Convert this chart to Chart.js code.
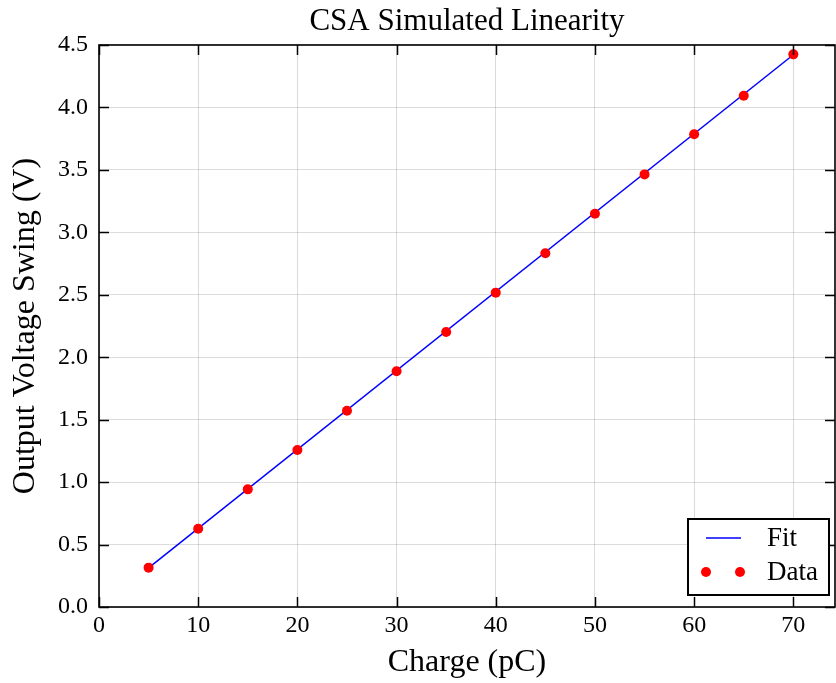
<!DOCTYPE html>
<html>
<head>
<meta charset="utf-8">
<script src="https://cdn.jsdelivr.net/npm/chart.js@4.4.1/dist/chart.umd.min.js"></script>
<style>
  html, body { margin: 0; padding: 0; background: #fff; }
  canvas { display: block; }
</style>
</head>
<body>
<canvas id="linearityChart" width="836" height="683"></canvas>
<script>
// Dữ liệu
const chargeValues = [5, 10, 15, 20, 25, 30, 35, 40, 45, 50, 55, 60, 65, 70];
const swingValues = [0.315, 0.627, 0.942, 1.257, 1.572, 1.887, 2.202, 2.517, 2.832, 3.149, 3.464, 3.785, 4.094, 4.425];
const fitCharge = [5, 70];
const fitSwing = [0.313, 4.422];
const xTicks = [0, 10, 20, 30, 40, 50, 60, 70];
const yTicks = [0, 0.5, 1, 1.5, 2, 2.5, 3, 3.5, 4, 4.5];

const serif = "'Liberation Serif', 'DejaVu Serif', serif";
Chart.defaults.font.family = serif;
Chart.defaults.color = '#000';

// ticks hướng vào trong + khung + chú thích
const framePlugin = {
    id: 'frame',
    afterDraw(chart) {
        const ctx = chart.ctx;
        const a = chart.chartArea;
        const xs = chart.scales.x, ys = chart.scales.y;
        ctx.save();
        ctx.strokeStyle = '#000';
        ctx.lineWidth = 1.5;
        ctx.beginPath();
        xTicks.forEach(v => {
            const px = Math.round(xs.getPixelForValue(v)) + 0.5;
            ctx.moveTo(px, a.bottom); ctx.lineTo(px, a.bottom - 10);
            ctx.moveTo(px, a.top); ctx.lineTo(px, a.top + 10);
        });
        yTicks.forEach(v => {
            const py = Math.round(ys.getPixelForValue(v)) + 0.5;
            ctx.moveTo(a.left, py); ctx.lineTo(a.left + 10, py);
            ctx.moveTo(a.right, py); ctx.lineTo(a.right - 10, py);
        });
        ctx.stroke();
        ctx.lineWidth = 1.6;
        ctx.strokeRect(a.left, a.top, a.right - a.left, a.bottom - a.top);

        // legend
        const ds = chart.data.datasets;
        const bx = 688, by = 519, bw = 141, bh = 76;
        ctx.fillStyle = '#fff';
        ctx.fillRect(bx, by, bw, bh);
        ctx.lineWidth = 2;
        ctx.strokeRect(bx, by, bw, bh);
        ctx.strokeStyle = ds[0].borderColor;
        ctx.lineWidth = 1.5;
        ctx.beginPath();
        ctx.moveTo(706, 538); ctx.lineTo(741, 538);
        ctx.stroke();
        ctx.fillStyle = ds[1].backgroundColor;
        [706, 740].forEach(cx => {
            ctx.beginPath();
            ctx.arc(cx, 572, 5, 0, Math.PI * 2);
            ctx.fill();
        });
        ctx.fillStyle = '#000';
        ctx.font = '27px ' + serif;
        ctx.textAlign = 'left';
        ctx.textBaseline = 'middle';
        ctx.fillText(ds[0].label, 767, 539);
        ctx.fillText(ds[1].label, 767, 573);
        ctx.restore();
    }
};

const ctx = document.getElementById('linearityChart').getContext('2d');
new Chart(ctx, {
    type: 'scatter',
    data: {
        datasets: [{
            label: 'Fit',
            type: 'line',
            data: fitCharge.map((x, i) => ({ x: x, y: fitSwing[i] })),
            borderColor: '#0000ff',
            borderWidth: 1.5,
            pointRadius: 0,
            showLine: true,
            order: 1
        }, {
            label: 'Data',
            data: chargeValues.map((x, i) => ({ x: x, y: swingValues[i] })),
            backgroundColor: '#ff0000',
            borderWidth: 0,
            pointRadius: 5,
            order: 0
        }]
    },
    options: {
        responsive: false,
        animation: false,
        layout: { autoPadding: false, padding: { left: 0, right: 1, top: 0, bottom: 0 } },
        plugins: {
            legend: { display: false },
            tooltip: { enabled: false },
            title: {
                display: true,
                fullSize: false,
                text: 'CSA Simulated Linearity',
                color: '#000',
                font: { size: 31, weight: 'normal' },
                padding: { top: 3, bottom: 4.8 }
            }
        },
        scales: {
            x: {
                type: 'linear',
                min: 0,
                max: 74.2,
                afterFit: s => { s.height = 76; s.paddingLeft = 0; s.paddingRight = 0; },
                afterBuildTicks: s => { s.ticks = xTicks.map(v => ({ value: v })); },
                ticks: { font: { size: 24 }, padding: 4, maxRotation: 0 },
                grid: { color: 'rgba(0,0,0,0.14)', drawTicks: false },
                border: { display: false },
                title: {
                    display: true,
                    text: 'Charge (pC)',
                    font: { size: 32 },
                    padding: { top: 0, bottom: 1 }
                }
            },
            y: {
                min: 0,
                max: 4.5,
                afterFit: s => { s.width = 99; s.paddingTop = 0; s.paddingBottom = 0; },
                afterBuildTicks: s => { s.ticks = yTicks.map(v => ({ value: v })); },
                ticks: { font: { size: 24 }, padding: 11, callback: v => v.toFixed(1) },
                grid: { color: 'rgba(0,0,0,0.14)', drawTicks: false },
                border: { display: false },
                title: {
                    display: true,
                    text: 'Output Voltage Swing (V)',
                    font: { size: 32 },
                    padding: { top: 6, bottom: 0 }
                }
            }
        }
    },
    plugins: [framePlugin]
});
</script>
</body>
</html>
